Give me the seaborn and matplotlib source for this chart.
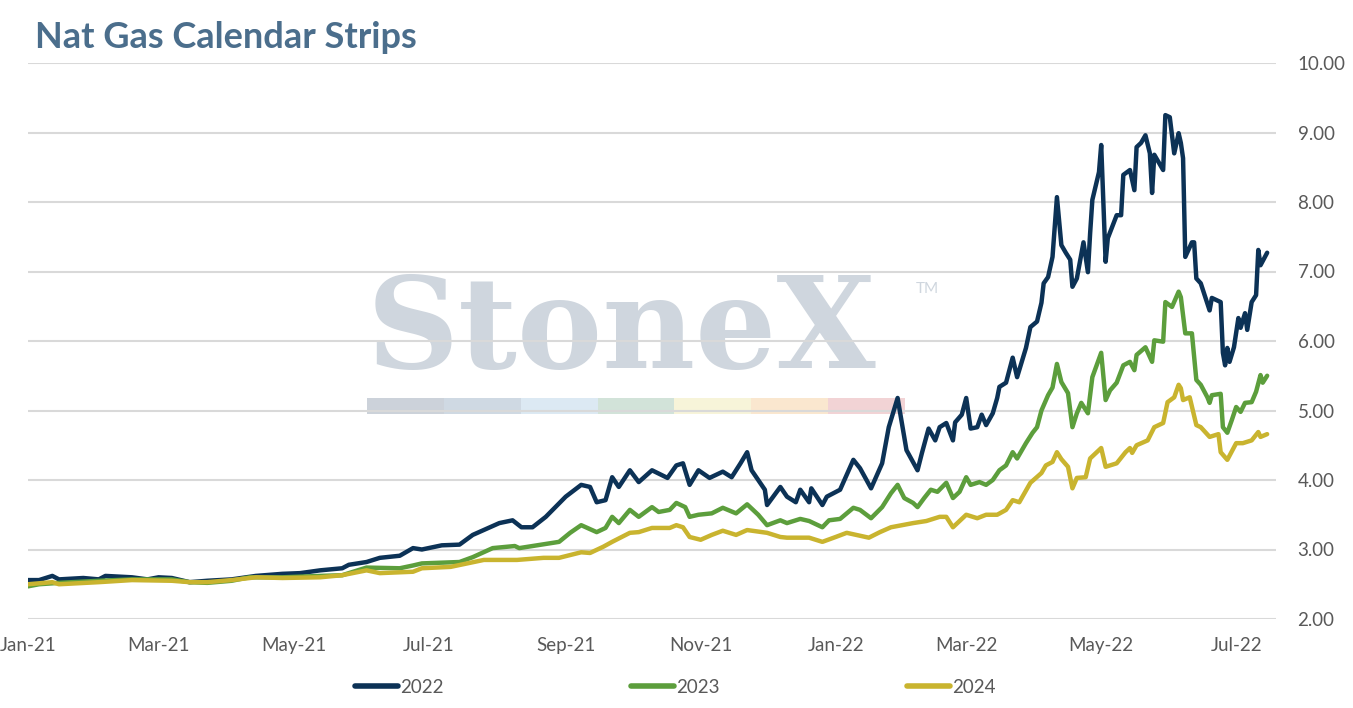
import pandas as pd
import matplotlib
matplotlib.use("Agg")
import matplotlib.pyplot as plt
import matplotlib.dates as mdates
from matplotlib.ticker import FormatStrFormatter
from matplotlib.patches import Rectangle
import seaborn as sns

# Cal 2022 strip (navy)
dates_2022 = [
    "2021-01-01", "2021-01-06", "2021-01-12", "2021-01-15", "2021-01-26", "2021-02-02",
    "2021-02-05", "2021-02-17", "2021-02-24", "2021-03-01", "2021-03-07", "2021-03-15",
    "2021-03-23", "2021-04-03", "2021-04-14", "2021-04-26", "2021-05-04", "2021-05-13",
    "2021-05-23", "2021-05-26", "2021-06-03", "2021-06-09", "2021-06-18", "2021-06-24",
    "2021-06-28", "2021-07-07", "2021-07-15", "2021-07-21", "2021-08-02", "2021-08-08",
    "2021-08-12", "2021-08-17", "2021-08-23", "2021-09-01", "2021-09-08", "2021-09-12",
    "2021-09-15", "2021-09-19", "2021-09-22", "2021-09-25", "2021-09-30", "2021-10-04",
    "2021-10-10", "2021-10-17", "2021-10-21", "2021-10-24", "2021-10-27", "2021-10-31",
    "2021-11-05", "2021-11-11", "2021-11-15", "2021-11-19", "2021-11-22", "2021-11-24",
    "2021-11-30", "2021-12-01", "2021-12-07", "2021-12-10", "2021-12-14", "2021-12-16",
    "2021-12-20", "2021-12-21", "2021-12-26", "2021-12-28", "2022-01-03", "2022-01-09",
    "2022-01-12", "2022-01-17", "2022-01-22", "2022-01-25", "2022-01-29", "2022-02-02",
    "2022-02-07", "2022-02-09", "2022-02-12", "2022-02-15", "2022-02-17", "2022-02-20",
    "2022-02-23", "2022-02-24", "2022-02-27", "2022-03-01", "2022-03-03", "2022-03-06",
    "2022-03-08", "2022-03-10", "2022-03-13", "2022-03-15", "2022-03-16", "2022-03-19",
    "2022-03-22", "2022-03-24", "2022-03-28", "2022-03-30", "2022-04-02", "2022-04-04",
    "2022-04-05", "2022-04-07", "2022-04-09", "2022-04-11", "2022-04-13", "2022-04-15",
    "2022-04-17", "2022-04-18", "2022-04-20", "2022-04-23", "2022-04-25", "2022-04-26",
    "2022-04-27", "2022-04-30", "2022-05-01", "2022-05-03", "2022-05-04", "2022-05-08",
    "2022-05-10", "2022-05-11", "2022-05-14", "2022-05-16", "2022-05-17", "2022-05-19",
    "2022-05-21", "2022-05-23", "2022-05-24", "2022-05-25", "2022-05-29", "2022-05-30",
    "2022-06-01", "2022-06-03", "2022-06-05", "2022-06-06", "2022-06-07", "2022-06-08",
    "2022-06-11", "2022-06-12", "2022-06-13", "2022-06-15", "2022-06-19", "2022-06-20",
    "2022-06-24", "2022-06-25", "2022-06-26", "2022-06-27", "2022-06-28", "2022-06-30",
    "2022-07-02", "2022-07-03", "2022-07-05", "2022-07-06", "2022-07-08", "2022-07-10",
    "2022-07-11", "2022-07-12", "2022-07-15",
]
strip_2022 = [
    2.56, 2.56, 2.62, 2.57, 2.59, 2.57,
    2.62, 2.60, 2.57, 2.60, 2.59, 2.53,
    2.55, 2.57, 2.62, 2.65, 2.66, 2.70,
    2.73, 2.78, 2.82, 2.88, 2.91, 3.02,
    3.00, 3.06, 3.07, 3.21, 3.38, 3.42,
    3.32, 3.32, 3.47, 3.76, 3.93, 3.90,
    3.68, 3.71, 4.04, 3.90, 4.14, 3.97,
    4.14, 4.03, 4.21, 4.24, 3.93, 4.14,
    4.03, 4.12, 4.04, 4.24, 4.40, 4.14,
    3.86, 3.64, 3.90, 3.76, 3.68, 3.86,
    3.68, 3.88, 3.64, 3.76, 3.86, 4.29,
    4.17, 3.88, 4.24, 4.76, 5.18, 4.43,
    4.14, 4.39, 4.74, 4.57, 4.76, 4.82,
    4.57, 4.83, 4.94, 5.18, 4.74, 4.76,
    4.94, 4.79, 4.96, 5.18, 5.34, 5.40,
    5.76, 5.48, 5.90, 6.20, 6.28, 6.55,
    6.83, 6.92, 7.21, 8.07, 7.38, 7.27,
    7.17, 6.78, 6.90, 7.42, 6.99, 7.55,
    8.03, 8.43, 8.82, 7.14, 7.48, 7.81,
    7.81, 8.39, 8.46, 8.17, 8.79, 8.85,
    8.96, 8.70, 8.13, 8.68, 8.46, 9.25,
    9.22, 8.70, 8.99, 8.85, 8.63, 7.21,
    7.42, 7.42, 6.90, 6.83, 6.44, 6.62,
    6.56, 5.83, 5.65, 5.90, 5.70, 5.91,
    6.33, 6.19, 6.40, 6.16, 6.56, 6.66,
    7.31, 7.09, 7.27,
]

# Cal 2023 strip (green)
dates_2023 = [
    "2021-01-01", "2021-01-06", "2021-01-15", "2021-02-02", "2021-02-17", "2021-03-07",
    "2021-03-15", "2021-03-23", "2021-04-03", "2021-04-11", "2021-04-26", "2021-05-13",
    "2021-05-23", "2021-06-03", "2021-06-18", "2021-06-24", "2021-06-28", "2021-07-15",
    "2021-07-21", "2021-07-30", "2021-08-09", "2021-08-11", "2021-08-19", "2021-08-29",
    "2021-09-03", "2021-09-08", "2021-09-15", "2021-09-19", "2021-09-22", "2021-09-25",
    "2021-09-30", "2021-10-04", "2021-10-10", "2021-10-13", "2021-10-18", "2021-10-21",
    "2021-10-25", "2021-10-27", "2021-10-31", "2021-11-06", "2021-11-11", "2021-11-17",
    "2021-11-22", "2021-11-27", "2021-12-01", "2021-12-07", "2021-12-10", "2021-12-16",
    "2021-12-20", "2021-12-26", "2021-12-29", "2022-01-03", "2022-01-09", "2022-01-12",
    "2022-01-17", "2022-01-22", "2022-01-26", "2022-01-29", "2022-02-01", "2022-02-05",
    "2022-02-07", "2022-02-10", "2022-02-13", "2022-02-16", "2022-02-20", "2022-02-23",
    "2022-02-26", "2022-03-01", "2022-03-03", "2022-03-07", "2022-03-10", "2022-03-13",
    "2022-03-16", "2022-03-19", "2022-03-22", "2022-03-24", "2022-03-28", "2022-03-31",
    "2022-04-02", "2022-04-04", "2022-04-07", "2022-04-09", "2022-04-11", "2022-04-13",
    "2022-04-16", "2022-04-18", "2022-04-20", "2022-04-22", "2022-04-25", "2022-04-27",
    "2022-05-01", "2022-05-03", "2022-05-05", "2022-05-08", "2022-05-11", "2022-05-14",
    "2022-05-16", "2022-05-17", "2022-05-21", "2022-05-24", "2022-05-25", "2022-05-29",
    "2022-05-30", "2022-06-02", "2022-06-05", "2022-06-06", "2022-06-08", "2022-06-11",
    "2022-06-13", "2022-06-15", "2022-06-18", "2022-06-19", "2022-06-20", "2022-06-24",
    "2022-06-25", "2022-06-27", "2022-06-29", "2022-07-01", "2022-07-03", "2022-07-05",
    "2022-07-08", "2022-07-10", "2022-07-12", "2022-07-13", "2022-07-15",
]
strip_2023 = [
    2.47, 2.50, 2.52, 2.55, 2.57, 2.57,
    2.53, 2.52, 2.55, 2.60, 2.60, 2.62,
    2.63, 2.74, 2.73, 2.77, 2.80, 2.82,
    2.89, 3.02, 3.05, 3.02, 3.06, 3.11,
    3.24, 3.35, 3.25, 3.31, 3.47, 3.38,
    3.57, 3.47, 3.61, 3.54, 3.57, 3.67,
    3.61, 3.47, 3.50, 3.52, 3.60, 3.52,
    3.65, 3.50, 3.35, 3.42, 3.38, 3.44,
    3.41, 3.32, 3.42, 3.44, 3.60, 3.57,
    3.45, 3.61, 3.81, 3.93, 3.74, 3.67,
    3.61, 3.74, 3.86, 3.83, 3.96, 3.74,
    3.83, 4.04, 3.93, 3.97, 3.93, 4.00,
    4.14, 4.21, 4.40, 4.31, 4.53, 4.68,
    4.76, 5.00, 5.22, 5.33, 5.67, 5.41,
    5.25, 4.76, 4.96, 5.11, 4.96, 5.48,
    5.83, 5.15, 5.29, 5.40, 5.65, 5.70,
    5.58, 5.80, 5.91, 5.70, 6.01, 5.99,
    6.56, 6.49, 6.71, 6.63, 6.11, 6.11,
    5.44, 5.37, 5.19, 5.11, 5.22, 5.24,
    4.76, 4.68, 4.86, 5.05, 4.98, 5.11,
    5.12, 5.27, 5.51, 5.40, 5.50,
]

# Cal 2024 strip (gold)
dates_2024 = [
    "2021-01-01", "2021-01-12", "2021-01-15", "2021-02-02", "2021-02-17", "2021-03-07",
    "2021-03-15", "2021-03-23", "2021-04-03", "2021-04-14", "2021-04-26", "2021-05-13",
    "2021-05-23", "2021-06-03", "2021-06-09", "2021-06-24", "2021-06-28", "2021-07-11",
    "2021-07-26", "2021-08-10", "2021-08-22", "2021-08-29", "2021-09-08", "2021-09-12",
    "2021-09-18", "2021-09-22", "2021-09-30", "2021-10-04", "2021-10-10", "2021-10-18",
    "2021-10-21", "2021-10-24", "2021-10-27", "2021-11-01", "2021-11-06", "2021-11-11",
    "2021-11-17", "2021-11-22", "2021-12-01", "2021-12-07", "2021-12-10", "2021-12-20",
    "2021-12-26", "2022-01-01", "2022-01-06", "2022-01-16", "2022-01-21", "2022-01-26",
    "2022-01-31", "2022-02-05", "2022-02-11", "2022-02-17", "2022-02-20", "2022-02-23",
    "2022-03-01", "2022-03-06", "2022-03-10", "2022-03-15", "2022-03-19", "2022-03-22",
    "2022-03-25", "2022-03-30", "2022-04-04", "2022-04-06", "2022-04-09", "2022-04-11",
    "2022-04-13", "2022-04-16", "2022-04-18", "2022-04-20", "2022-04-24", "2022-04-26",
    "2022-05-01", "2022-05-03", "2022-05-08", "2022-05-12", "2022-05-14", "2022-05-15",
    "2022-05-17", "2022-05-22", "2022-05-25", "2022-05-29", "2022-05-31", "2022-06-03",
    "2022-06-05", "2022-06-06", "2022-06-07", "2022-06-10", "2022-06-13", "2022-06-15",
    "2022-06-19", "2022-06-23", "2022-06-24", "2022-06-27", "2022-07-01", "2022-07-04",
    "2022-07-08", "2022-07-11", "2022-07-12", "2022-07-15",
]
strip_2024 = [
    2.50, 2.53, 2.50, 2.53, 2.56, 2.55,
    2.53, 2.53, 2.56, 2.60, 2.59, 2.60,
    2.63, 2.70, 2.66, 2.68, 2.73, 2.75,
    2.85, 2.85, 2.88, 2.88, 2.96, 2.95,
    3.04, 3.11, 3.24, 3.25, 3.31, 3.31,
    3.35, 3.32, 3.18, 3.14, 3.21, 3.27,
    3.21, 3.28, 3.24, 3.18, 3.17, 3.17,
    3.11, 3.18, 3.24, 3.17, 3.25, 3.32,
    3.35, 3.38, 3.41, 3.47, 3.47, 3.32,
    3.50, 3.45, 3.50, 3.50, 3.57, 3.71,
    3.68, 3.96, 4.10, 4.21, 4.26, 4.40,
    4.30, 4.19, 3.88, 4.03, 4.04, 4.31,
    4.46, 4.19, 4.24, 4.40, 4.46, 4.39,
    4.50, 4.57, 4.76, 4.82, 5.12, 5.19,
    5.37, 5.32, 5.15, 5.19, 4.79, 4.76,
    4.62, 4.66, 4.40, 4.29, 4.53, 4.53,
    4.57, 4.69, 4.62, 4.66,
]

strip_labels = ["2022", "2023", "2024"]
y_ticks = [2, 3, 4, 5, 6, 7, 8, 9, 10]
palette = {"2022": "#0C3256", "2023": "#5C9E3C", "2024": "#C9B42F"}
logo_colors = ["#ccd2da", "#cfd9e3", "#dce9f3", "#d2e3d9", "#f7f4d9", "#fae7cf", "#f2d3d5"]


def build_frame():
    parts = []
    for label, d, v in zip(strip_labels, [dates_2022, dates_2023, dates_2024],
                           [strip_2022, strip_2023, strip_2024]):
        parts.append(pd.DataFrame({"date": pd.to_datetime(d), "price": v, "strip": label}))
    return pd.concat(parts, ignore_index=True)


sns.set_theme(style="white")
plt.rcParams["font.family"] = ["Lato", "DejaVu Sans"]

W, H = 1353, 708
fig = plt.figure(figsize=(W / 100, H / 100), dpi=100)
ax = fig.add_axes([28 / W, 1 - 619 / H, 1248 / W, 556 / H])

# watermark behind the grid
ax.text(0.2716, 0.4514, "StoneX", transform=ax.transAxes, fontsize=92,
        family="DejaVu Serif", weight="bold", color="#cfd6de", ha="left",
        va="baseline", zorder=0.2)
ax.text(0.711, 0.606, "TM", transform=ax.transAxes, fontsize=11,
        color="#cfd6de", ha="left", va="top", zorder=0.2)
seg_w = (0.7027 - 0.2716) / len(logo_colors)
for i, c in enumerate(logo_colors):
    ax.add_patch(Rectangle((0.2716 + i * seg_w, 0.3687), seg_w, 0.0288,
                           transform=ax.transAxes, color=c, lw=0, zorder=0.2))

df = build_frame()
sns.lineplot(data=df, x="date", y="price", hue="strip", palette=palette,
             linewidth=3.2, estimator=None, legend=False, ax=ax, zorder=3)
for ln in ax.get_lines():
    ln.set_solid_joinstyle("round")

ax.set_ylim(2, 10)
ax.set_yticks(y_ticks)
ax.yaxis.set_major_formatter(FormatStrFormatter("%.2f"))
ax.yaxis.tick_right()
ax.set_xlim(pd.Timestamp("2021-01-01"), pd.Timestamp("2022-07-19"))
ax.xaxis.set_major_locator(mdates.MonthLocator(bymonth=[1, 3, 5, 7, 9, 11]))
ax.xaxis.set_major_formatter(mdates.DateFormatter("%b-%y"))
ax.set_xlabel("")
ax.set_ylabel("")
ax.grid(axis="y", color="#d9d9d9", linewidth=1.5)
ax.set_axisbelow(True)
ax.tick_params(axis="y", length=0, pad=15.5, labelsize=13.5, labelcolor="#595959")
ax.tick_params(axis="x", length=0, pad=13, labelsize=13.5, labelcolor="#595959")
sns.despine(ax=ax, left=True, bottom=True, right=True, top=True)
ax.patch.set_alpha(0)

fig.text(35 / W, 1 - 48 / H, "Nat Gas Calendar Strips", fontsize=26,
         weight="bold", color="#4B6E8C", ha="left", va="baseline")

handles = [plt.Line2D([], [], color=palette[k], lw=4, solid_capstyle="round")
           for k in strip_labels]
fig.legend(handles, strip_labels, loc="center", bbox_to_anchor=(0.499, 0.029),
           ncol=3, frameon=False, handlelength=2.3, handletextpad=0.1,
           columnspacing=10.0, fontsize=13.5, labelcolor="#595959")

fig.savefig("out.png", dpi=100)
